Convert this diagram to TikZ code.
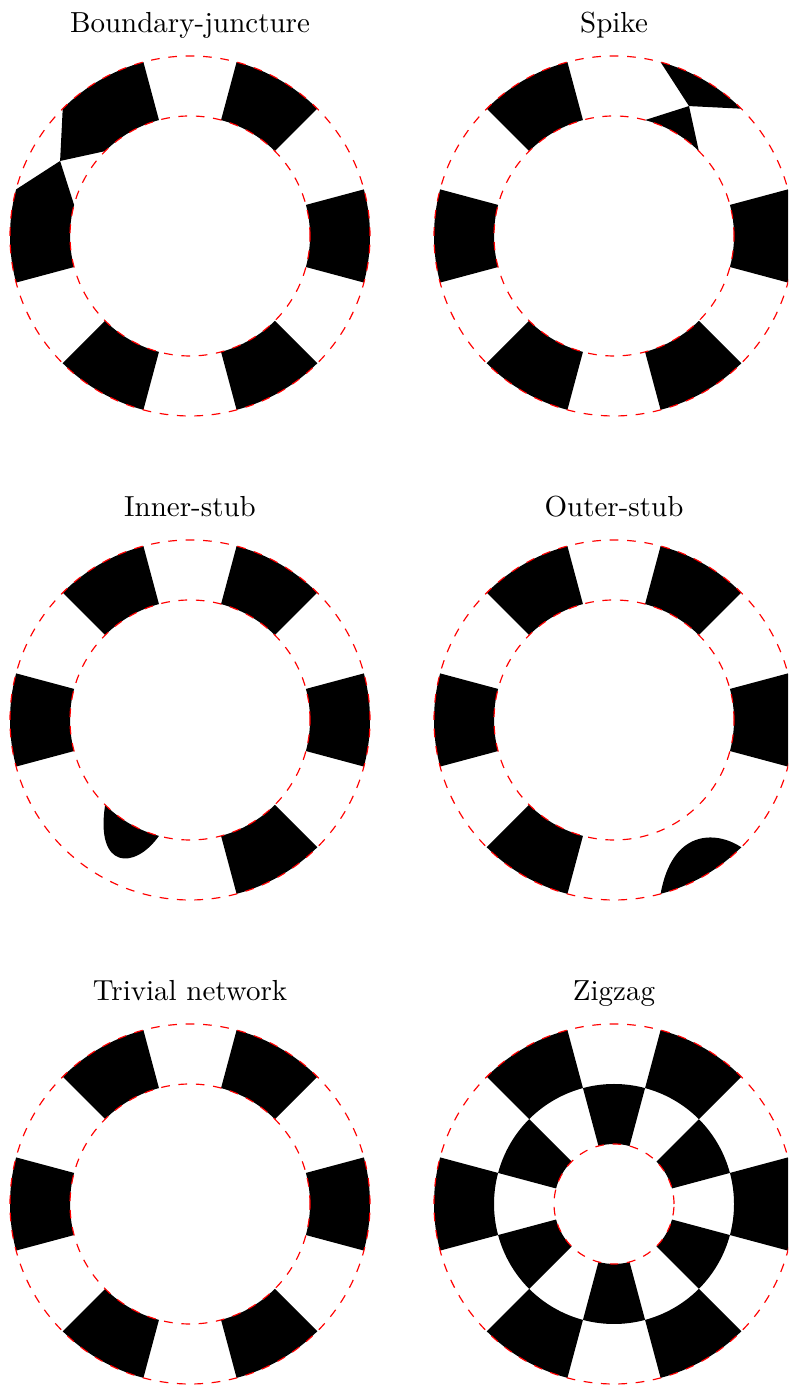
\documentclass[tikz,border=0pt]{standalone}
\usepackage{tikz}

% filled annular wedge: start angle, end angle, inner radius, outer radius
\newcommand{\annsec}[4]{%
  \fill[cell] (#1:#3) -- (#1:#4) arc[start angle=#1, end angle=#2, radius=#4]
    -- (#2:#3) arc[start angle=#2, end angle=#1, radius=#3] -- cycle;}

\begin{document}
\begin{tikzpicture}[
    x=0.3448pt, y=0.3448pt,
    every node/.style={font=\normalsize},
    cell/.style={fill=black},
    guide/.style={draw=red, dashed},
    title/.style={anchor=base},
  ]
  \useasboundingbox (0,0) rectangle (788,1387);
  \clip (0,0) rectangle (788,1387);

  % Boundary-juncture
  \begin{scope}[shift={(190,1151)}]
    \node[title] (junct) at (0,203) {Boundary-juncture};
    \foreach \a in {0,60,240,300} {\annsec{\a-15}{\a+15}{120}{180}}
    \coordinate (jpt) at (150:150);
    \fill[cell] (105:120) -- (105:180) arc[start angle=105, end angle=135, radius=180]
      -- (jpt) -- (135:120) arc[start angle=135, end angle=105, radius=120] -- cycle;
    \fill[cell] (165:180) arc[start angle=165, end angle=195, radius=180]
      -- (195:120) arc[start angle=195, end angle=165, radius=120] -- (jpt) -- cycle;
    \draw[guide] (0,0) circle[radius=180] (0,0) circle[radius=120];
  \end{scope}

  % Spike
  \begin{scope}[shift={(614,1151)}]
    \node[title] (spike) at (0,203) {Spike};
    \foreach \a in {0,120,180,240,300} {\annsec{\a-15}{\a+15}{120}{180}}
    \coordinate (tip) at (60:150);
    \fill[cell] (75:180) arc[start angle=75, end angle=45, radius=180] -- (tip) -- cycle;
    \fill[cell] (tip) -- (75:120) arc[start angle=75, end angle=45, radius=120] -- cycle;
    \draw[guide] (0,0) circle[radius=180] (0,0) circle[radius=120];
  \end{scope}

  % Inner-stub
  \begin{scope}[shift={(190,667)}]
    \node[title] (instub) at (0,203) {Inner-stub};
    \foreach \a in {0,60,120,180,300} {\annsec{\a-15}{\a+15}{120}{180}}
    \fill[cell] (225:120) arc[start angle=225, end angle=255, radius=120]
      .. controls (-55,-150) and (-95,-150) .. (225:120) -- cycle;
    \draw[guide] (0,0) circle[radius=180] (0,0) circle[radius=120];
  \end{scope}

  % Outer-stub
  \begin{scope}[shift={(614,667)}]
    \node[title] (outstub) at (0,203) {Outer-stub};
    \foreach \a in {0,60,120,180,240} {\annsec{\a-15}{\a+15}{120}{180}}
    \fill[cell] (285:180) arc[start angle=285, end angle=315, radius=180]
      .. controls (101,-110) and (58,-110) .. (285:180) -- cycle;
    \draw[guide] (0,0) circle[radius=180] (0,0) circle[radius=120];
  \end{scope}

  % Trivial network
  \begin{scope}[shift={(190,183)}]
    \node[title] (trivial) at (0,203) {Trivial network};
    \foreach \a in {0,60,...,300} {\annsec{\a-15}{\a+15}{120}{180}}
    \draw[guide] (0,0) circle[radius=180] (0,0) circle[radius=120];
  \end{scope}

  % Zigzag
  \begin{scope}[shift={(614,183)}]
    \node[title] (zigzag) at (0,203) {Zigzag};
    \foreach \a in {0,60,...,300} {\annsec{\a-15}{\a+15}{120}{180}}
    \foreach \a in {30,90,...,330} {\annsec{\a-15}{\a+15}{60}{120}}
    \draw[guide] (0,0) circle[radius=180] (0,0) circle[radius=60];
  \end{scope}
\end{tikzpicture}
\end{document}
